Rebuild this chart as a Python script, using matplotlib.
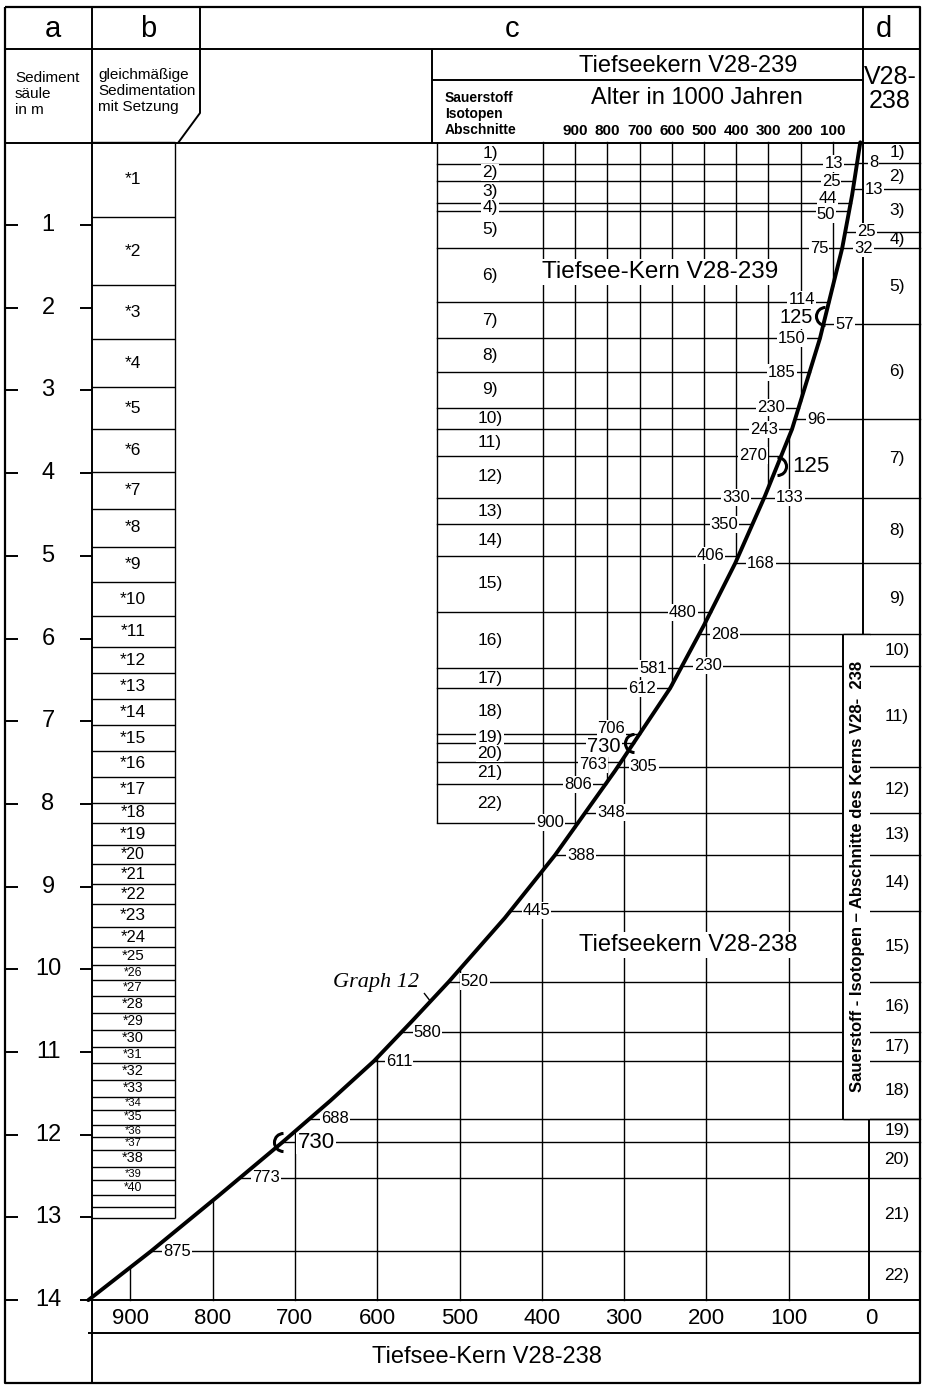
import numpy as np
import matplotlib
matplotlib.use("Agg")
import matplotlib.pyplot as plt
from matplotlib import transforms
from matplotlib.path import Path
from matplotlib.patches import Rectangle

plt.rcParams['font.family'] = ['Liberation Sans', 'DejaVu Sans']

# depth scale of the sediment column (m)
depth_ticks = [1, 2, 3, 4, 5, 6, 7, 8, 9, 10, 11, 12, 13, 14]

# Graph 12: age of core V28-238 (1000 years) against depth (m)
graph_depth = [0.0, 0.64, 1.28, 2.37, 3.47, 4.28, 5.09, 5.84, 6.60, 7.60,
               8.62, 9.38, 10.15, 10.63, 11.11, 11.59, 12.09, 12.74, 13.41, 14.0]
graph_age = [13, 23, 35, 62, 96, 129, 165, 203, 244, 311,
             384, 445, 513, 558, 604, 657, 715, 793, 875, 951]

# oxygen isotope stage boundaries of core V28-238
v238_age = [8, 13, 25, 32, 57, 96, 133, 168, 208, 230, 305, 348, 388, 445, 520,
            580, 611, 688, 730, 773, 875]
v238_depth = [0.25, 0.57, 1.08, 1.28, 2.20, 3.35, 4.30, 5.09, 5.95, 6.33, 7.55, 8.11,
              8.62, 9.29, 10.15, 10.76, 11.11, 11.81, 12.09, 12.52, 13.41]

# oxygen isotope stage boundaries of core V28-239 on the same depth scale
v239_age = [13, 25, 44, 50, 75, 114, 150, 185, 230, 243, 270, 330, 350, 406, 480,
            581, 612, 706, 730, 763, 806, 900]
v239_depth = [0.26, 0.47, 0.73, 0.83, 1.28, 1.93, 2.37, 2.78, 3.21, 3.47, 3.79, 4.30,
              4.62, 5.00, 5.68, 6.36, 6.60, 7.16, 7.26, 7.49, 7.76, 8.23]

stage_labels = [f"{i})" for i in range(1, 23)]

# 125 and 730 thousand-year levels marked on the curve
v239_mark_age = [125, 730]
v239_mark_depth = [2.10, 7.26]
v238_mark_age = [125, 730]
v238_mark_depth = [3.92, 12.09]

# layers of equal sedimentation with compaction (column b), boundaries in m
b_bounds = [0.00, 0.90, 1.73, 2.38, 2.96, 3.47, 3.99, 4.43, 4.89, 5.32, 5.73, 6.10,
            6.42, 6.73, 7.05, 7.36, 7.67, 7.99, 8.23, 8.50, 8.73, 8.97, 9.21, 9.49,
            9.73, 9.95, 10.13, 10.32, 10.53, 10.73, 10.94, 11.13, 11.34, 11.54, 11.70,
            11.88, 12.03, 12.18, 12.39, 12.55, 12.73, 12.87, 13.01]
b_labels = [f"*{i}" for i in range(1, 41)] + ["", ""]

# age scales in 1000 years
v238_ticks = [900, 800, 700, 600, 500, 400, 300, 200, 100, 0]
v239_ticks = [900, 800, 700, 600, 500, 400, 300, 200, 100]
v239_grid = [1000, 900, 800, 700, 600, 500, 400, 300, 200, 100]

W, H = 930, 1386
fig = plt.figure(figsize=(W / 100, H / 100), dpi=100)

# main axes: x = age of V28-238, y = depth; spans the whole sheet
ax = fig.add_axes([0, 0, 1, 1])
ax.set_xlim(871 / 0.823, (871 - W) / 0.823)
ax.set_ylim((H - 142.3) / 82.7, -142.3 / 82.7)
ax.set_autoscale_on(False)
ax.axis('off')

# scale of the V28-239 age axis (top of column c)
ax2 = fig.add_axes([0, 0, 1, 1])
ax2.set_xlim(865 / 0.322, (865 - W) / 0.322)
ax2.set_ylim(ax.get_ylim())
ax2.set_visible(False)

# sheet coordinates in pixels, origin top left
px = transforms.Affine2D().scale(1 / W, -1 / H).translate(0, 1) + fig.transFigure
bt = transforms.blended_transform_factory(px, ax.transData)        # x pixel, y depth
bt_top = transforms.blended_transform_factory(ax2.transData, px)   # x V28-239 age, y pixel
bt_bot = transforms.blended_transform_factory(ax.transData, px)    # x V28-238 age, y pixel

K = 'black'
LW_F = 1.4
LW_T = 1.0
FS_NUM = 12
FS_BIG = 14.5
WHITE = dict(boxstyle='square,pad=0.06', fc='white', ec='none')


def seg(xs, ys, tr, lw=LW_F, z=2):
    ax.plot(xs, ys, color=K, lw=lw, transform=tr, zorder=z, solid_capstyle='butt')


def age_of_px(xp):
    return ax.transData.inverted().transform(px.transform((xp, 0)))[0]


def px_of_age(a):
    return px.inverted().transform(ax.transData.transform((a, 0)))[0]


def px_of_depth(d):
    return px.inverted().transform(ax.transData.transform((0, d)))[1]


def depth_of_px(yp):
    return ax.transData.inverted().transform(px.transform((0, yp)))[1]


def curve_age(d):
    return float(np.interp(d, graph_depth, graph_age))


def spread(texts, depths, margin=1.0):
    """Move vertically centred labels apart so that neighbours do not overlap."""
    renderer = fig.canvas.get_renderer()
    ys = [px_of_depth(d) for d in depths]
    hs = [t.get_window_extent(renderer).height for t in texts]
    order = list(np.argsort(ys))
    pos = [ys[i] for i in order]
    hh = [hs[i] for i in order]
    for _ in range(400):
        moved = False
        for k in range(len(pos) - 1):
            need = (hh[k] + hh[k + 1]) / 2 + margin - (pos[k + 1] - pos[k])
            if need > 0.01:
                pos[k] -= need / 2
                pos[k + 1] += need / 2
                moved = True
        if not moved:
            break
    for k, i in enumerate(order):
        x = texts[i].get_position()[0]
        texts[i].set_position((x, depth_of_px(pos[k])))


depth_max = depth_ticks[-1]

# ---------------- frame and header ----------------
seg([5, 920, 920, 5, 5], [7, 7, 1383, 1383, 7], px, lw=1.6)
seg([5, 920], [49, 49], px)
seg([5, 920], [143, 143], px)
seg([92, 92], [7, 1383], px)
seg([200, 200, 178], [7, 113, 143], px)
seg([432, 432], [49, 143], px)
seg([432, 863], [80, 80], px)
seg([863, 863], [7, 143], px)
seg([88, 920], [1333, 1333], px)

for t, x in zip("abcd", [53, 148, 512, 884]):
    ax.text(x, 29, t, transform=px, ha='center', va='center', fontsize=21)

ax.text(15, 94, "Sediment\nsäule\nin m", transform=px, ha='left', va='center',
        fontsize=11, linespacing=1.15)
ax.text(98, 91, "gleichmäßige\nSedimentation\nmit Setzung", transform=px, ha='left',
        va='center', fontsize=11, linespacing=1.15)
ax.text(688, 66, "Tiefseekern V28-239", transform=px, ha='center', va='center', fontsize=17)
ax.text(697, 98, "Alter in 1000 Jahren", transform=px, ha='center', va='center', fontsize=17)
ax.text(445, 114, "Sauerstoff\nIsotopen\nAbschnitte", transform=px, ha='left', va='center',
        fontsize=10, weight='bold', linespacing=1.2)
ax.text(890, 89, "V28-\n238", transform=px, ha='center', va='center', fontsize=18,
        linespacing=1.05)

for a in v239_ticks:
    ax.text(a, 131, str(a), transform=bt_top, ha='center', va='center', fontsize=11,
            weight='bold')

# ---------------- column a: depth scale ----------------
for d in depth_ticks:
    seg([5, 18], [d, d], bt)
    seg([80, 92], [d, d], bt)
    ax.text(48, d, str(d), transform=bt, ha='center', va='center', fontsize=17)

# ---------------- column b: compaction layers ----------------
for d in b_bounds:
    seg([92, 175], [d, d], bt, lw=LW_T)
seg([175, 175], [b_bounds[0], b_bounds[-1]], bt, lw=LW_T)
for top, bot, lab in zip(b_bounds[:-1], b_bounds[1:], b_labels):
    h_px = (bot - top) * 82.7
    fs = float(np.clip(h_px * 0.6, 8, 12.5))
    ax.text(133, (top + bot) / 2, lab, transform=bt, ha='center', va='center', fontsize=fs)

# ---------------- grid lines of both age scales ----------------
for a in v239_grid:
    xd = ax2.transData.transform((a, 0))[0]
    a238 = ax.transData.inverted().transform((xd, 0))[0]
    d_end = float(np.interp(a238, graph_age, graph_depth))
    ax.plot([a, a], [0, d_end], color=K, lw=LW_T, transform=ax2.transData, zorder=1)

for a in v238_ticks:
    if a == 0:
        continue
    d0 = float(np.interp(a, graph_age, graph_depth))
    ax.plot([a, a], [d0, depth_max], color=K, lw=LW_T, zorder=1)
    ax.text(a, 1318, str(a), transform=bt_bot, ha='center', va='center', fontsize=16)
ax.text(0, 1318, "0", transform=bt_bot, ha='center', va='center', fontsize=16)
seg([88, 920], [depth_max, depth_max], bt)
ax.text(487, 1357, "Tiefsee-Kern V28-238", transform=px, ha='center', va='center', fontsize=17)

# ---------------- column c: stages of V28-239 ----------------
seg([437, 437], [0, v239_depth[-1]], bt, lw=LW_T)
x_left = age_of_px(437)
num_t, num_d = [], []
for a, d in zip(v239_age, v239_depth):
    ca = curve_age(d)
    ax.plot([x_left, ca], [d, d], color=K, lw=LW_T, zorder=1)
    if a in v239_mark_age:
        continue
    num_t.append(ax.text(px_of_age(ca) - 14, d, str(a), transform=bt, ha='right',
                         va='center', fontsize=FS_NUM, bbox=WHITE, zorder=3.5))
    num_d.append(d)

left_half = Path.arc(90, 270)
right_half = Path.arc(-90, 90)
for a, d in zip(v239_mark_age, v239_mark_depth):
    ca = curve_age(d)
    ax.plot([ca], [d], marker=left_half, ms=13, mfc='none', mec=K, mew=2.2, zorder=5)
    num_t.append(ax.text(px_of_age(ca) - 13, d, str(a), transform=bt, ha='right',
                         va='center', fontsize=FS_BIG, bbox=WHITE, zorder=3))
    num_d.append(d)
spread(num_t, num_d)

tops = [0.0] + v239_depth[:-1]
st_t, st_d = [], []
for top, bot, lab in zip(tops, v239_depth, stage_labels):
    st_t.append(ax.text(490, (top + bot) / 2, lab, transform=bt, ha='center', va='center',
                        fontsize=12.5, bbox=WHITE, zorder=3))
    st_d.append((top + bot) / 2)
spread(st_t, st_d, margin=0.5)

ax.text(660, 272, "Tiefsee-Kern V28-239", transform=px, ha='center', va='center',
        fontsize=17.5, bbox=dict(boxstyle='square,pad=0.1', fc='white', ec='none'), zorder=3)

# ---------------- column d: stages of V28-238 ----------------
d208 = v238_depth[v238_age.index(208)]
d688 = v238_depth[v238_age.index(688)]
seg([863, 863], [0, d208], bt)
seg([869, 869], [d688, depth_max], bt)

x_right = age_of_px(920)
num_t, num_d = [], []
for a, d in zip(v238_age, v238_depth):
    ca = curve_age(d)
    ax.plot([ca, x_right], [d, d], color=K, lw=LW_T, zorder=1)
    if a in v238_mark_age:
        continue
    num_t.append(ax.text(px_of_age(ca) + 12, d, str(a), transform=bt, ha='left',
                         va='center', fontsize=FS_NUM, bbox=WHITE, zorder=3.5))
    num_d.append(d)

for a, d, shape in zip(v238_mark_age, v238_mark_depth, [right_half, left_half]):
    ca = curve_age(d)
    ax.plot([ca], [d], marker=shape, ms=13, mfc='none', mec=K, mew=2.2, zorder=5)
    num_t.append(ax.text(px_of_age(ca) + 15, d, str(a), transform=bt, ha='left',
                         va='center', fontsize=16, bbox=WHITE, zorder=3))
    num_d.append(d)
spread(num_t, num_d)

tops = [0.0] + v238_depth
bots = v238_depth + [depth_max]
for top, bot, lab in zip(tops, bots, stage_labels):
    ax.text(897, (top + bot) / 2, lab, transform=bt, ha='center', va='center',
            fontsize=12.5, zorder=3)

# side box with the rotated caption
ax.add_patch(Rectangle((843, d208), 27, d688 - d208, transform=bt, fc='white',
                       ec='none', zorder=2.5))
seg([843, 843], [d208, d688], bt, z=2.6)
seg([843, 870], [d208, d208], bt, lw=LW_T, z=2.6)
seg([843, 920], [d688, d688], bt, lw=LW_T, z=2.6)
ax.text(857, (d208 + d688) / 2, "Sauerstoff - Isotopen – Abschnitte des Kerns V28-  238",
        transform=bt, rotation=90, ha='center', va='center', fontsize=12,
        weight='bold', zorder=3)

ax.text(688, 945, "Tiefseekern V28-238", transform=px, ha='center', va='center',
        fontsize=17, bbox=dict(boxstyle='square,pad=0.1', fc='white', ec='none'), zorder=3)

# ---------------- Graph 12 ----------------
ax.plot(graph_age, graph_depth, color=K, lw=2.8, zorder=4, solid_capstyle='round',
        solid_joinstyle='round')
ax.text(376, 983, "Graph 12", transform=px, ha='center', va='center', fontsize=16,
        family=['Liberation Serif', 'DejaVu Serif'], style='italic', zorder=3)
seg([424, 431], [993, 1002], px, lw=1.0)

fig.savefig("out.png", dpi=100)
